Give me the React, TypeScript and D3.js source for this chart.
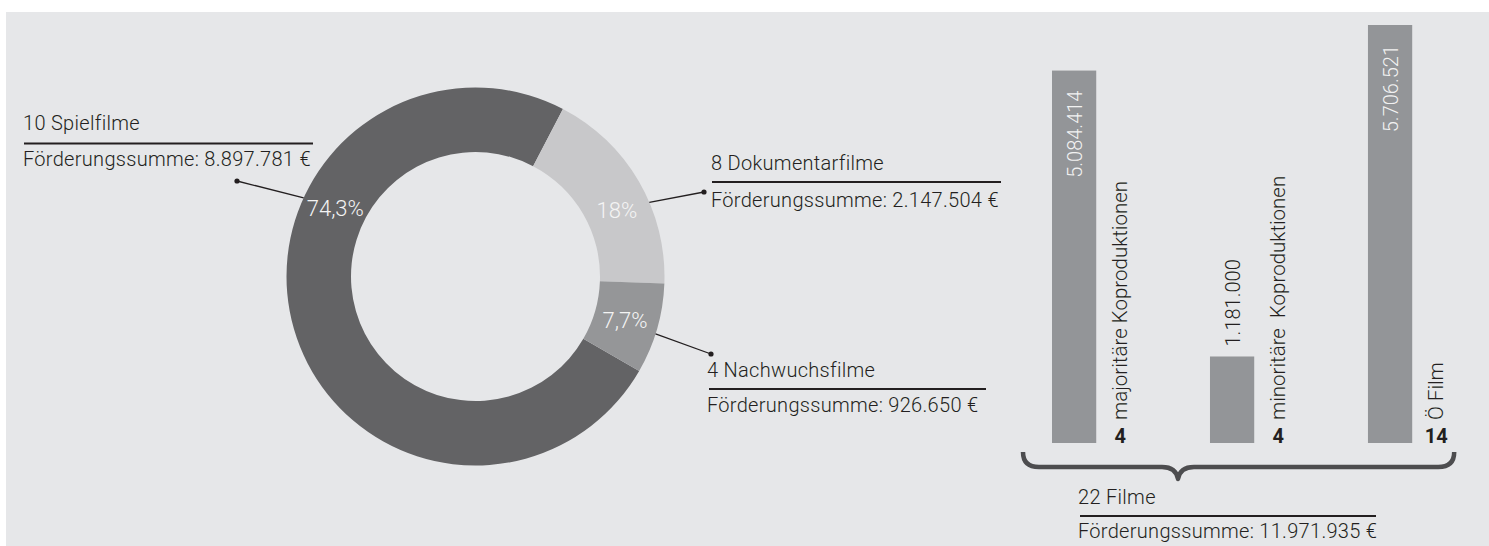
import React from 'react';
import * as d3 from 'd3';

// ---------- data ----------
const donutCategories = ['10 Spielfilme', '8 Dokumentarfilme', '4 Nachwuchsfilme'];
const donutSums = [8897781, 2147504, 926650];
const donutPercentLabels = ['74,3%', '18%', '7,7%'];
const donutSumLabels = [
  'Förderungssumme: 8.897.781 €',
  'Förderungssumme: 2.147.504 €',
  'Förderungssumme: 926.650 €',
];

const barCategories = ['majoritäre Koproduktionen', 'minoritäre  Koproduktionen', 'Ö Film'];
const barValues = [5084414, 1181000, 5706521];
const barValueLabels = ['5.084.414', '1.181.000', '5.706.521'];
const barCounts = ['4', '4', '14'];
const totalLabel = '22 Filme';
const totalSumLabel = 'Förderungssumme: 11.971.935 €';

// ---------- layout / style ----------
const W = 1489;
const H = 546;
const BG = '#e6e7e9';
const INK = '#231f20';
const SLICE_COLORS = ['#636365', '#c8c8ca', '#959698'];
const BAR_COLOR = '#939598';
const FONT = "Roboto, 'Liberation Sans', Arial, sans-serif";
const LABEL_SIZE = 20;

const CX = 475.5;
const CY = 276.5;
const R_OUT = 189;
const R_IN = 124.5;
const START_DEG = 120;
const PCT_ANGLES = [296, 65, 106.5];
const LEADER_ANGLES = [294.6, 66.9, 107.7];

// label blocks: text x, title baseline, underline y, underline x1, x2, sum baseline, dot
const LABEL_BLOCKS = [
  { x: 23, ty: 130, ly: 143.5, lx1: 24, lx2: 313, sy: 166, dot: [237, 181] },
  { x: 711, ty: 170, ly: 182, lx1: 712, lx2: 1001, sy: 207, dot: [704, 192] },
  { x: 707, ty: 377, ly: 389, lx1: 709, lx2: 986, sy: 412, dot: [711, 354] },
];
const TOTAL_BLOCK = { x: 1078, ty: 504, ly: 516, lx1: 1080, lx2: 1376, sy: 538 };

const rad = (d: number) => (d * Math.PI) / 180;
const polar = (r: number, deg: number): [number, number] => [
  CX + r * Math.sin(rad(deg)),
  CY - r * Math.cos(rad(deg)),
];

export default function App() {
  const pie = d3
    .pie<number>()
    .sort(null)
    .value((d) => d)
    .startAngle(rad(START_DEG))
    .endAngle(rad(START_DEG + 360));
  const arcs = pie(donutSums);
  const arcGen = d3.arc<d3.PieArcDatum<number>>().innerRadius(R_IN).outerRadius(R_OUT);

  const xBand = d3
    .scaleBand<string>()
    .domain(barCategories)
    .range([1052, 1412.2])
    .paddingInner(0.72)
    .paddingOuter(0);
  const yLin = d3.scaleLinear().domain([0, d3.max(barValues) as number]).range([443, 25]);
  const bw = xBand.bandwidth();

  const braceL = (xBand(barCategories[0]) as number) - 29;
  const braceR = (xBand(barCategories[barCategories.length - 1]) as number) + bw + 42;
  const braceM = 1178;
  const bY = 467;
  const brace = `M${braceL},452 Q${braceL},${bY} ${braceL + 16},${bY} L${braceM - 16},${bY} Q${braceM - 2},${bY} ${braceM},${bY + 12} Q${braceM + 2},${bY} ${braceM + 16},${bY} L${braceR - 16},${bY} Q${braceR},${bY} ${braceR},452`;

  const textStyle = { fontFamily: FONT, fontWeight: 300 as const };

  return (
    <svg
      width={W}
      height={H}
      style={{ position: 'absolute', left: 0, top: 0, background: '#ffffff' }}
    >
      <rect x={6} y={12} width={W - 6} height={H - 12} fill={BG} />

      {/* donut */}
      <g transform={`translate(${CX},${CY})`}>
        {arcs.map((a, i) => (
          <path key={i} d={arcGen(a) as string} fill={SLICE_COLORS[i]} />
        ))}
      </g>

      {/* percent labels */}
      {donutPercentLabels.map((t, i) => {
        const [x, y] = polar(156, PCT_ANGLES[i]);
        return (
          <text
            key={t}
            x={x}
            y={y + 7.5}
            textAnchor="middle"
            fontSize={22}
            fill="#f4f4f4"
            style={textStyle}
          >
            {t}
          </text>
        );
      })}

      {/* leader lines and label blocks */}
      {LABEL_BLOCKS.map((b, i) => {
        const [lx, ly] = polar(R_OUT, LEADER_ANGLES[i]);
        return (
          <g key={i}>
            <line x1={lx} y1={ly} x2={b.dot[0]} y2={b.dot[1]} stroke={INK} strokeWidth={1.3} />
            <circle cx={b.dot[0]} cy={b.dot[1]} r={2.6} fill={INK} />
            <text x={b.x} y={b.ty} fontSize={LABEL_SIZE} fill={INK} style={textStyle} letterSpacing={0.3}>
              {donutCategories[i]}
            </text>
            <line x1={b.lx1} x2={b.lx2} y1={b.ly} y2={b.ly} stroke={INK} strokeWidth={2} />
            <text x={b.x} y={b.sy} fontSize={LABEL_SIZE} fill={INK} style={textStyle} letterSpacing={0.3}>
              {donutSumLabels[i]}
            </text>
          </g>
        );
      })}

      {/* bars */}
      {barValues.map((v, i) => {
        const x = xBand(barCategories[i]) as number;
        const top = yLin(v);
        const inside = yLin(0) - top > 120;
        const cx = x + bw / 2;
        const labX = x + bw + 31;
        return (
          <g key={i}>
            <rect x={x} y={top} width={bw} height={yLin(0) - top} fill={BAR_COLOR} />
            {inside ? (
              <text
                transform={`translate(${cx + 7.5},${top + 20}) rotate(-90)`}
                textAnchor="end"
                fontSize={20}
                fill="#f2f2f2"
                style={textStyle}
              >
                {barValueLabels[i]}
              </text>
            ) : (
              <text
                transform={`translate(${cx + 7.5},${top - 10}) rotate(-90)`}
                textAnchor="start"
                fontSize={20}
                fill={INK}
                style={textStyle}
              >
                {barValueLabels[i]}
              </text>
            )}
            <text
              transform={`translate(${labX},420) rotate(-90)`}
              textAnchor="start"
              fontSize={20.5}
              fill={INK}
              style={{ ...textStyle, whiteSpace: 'pre' }}
            >
              {barCategories[i]}
            </text>
            <text
              x={labX - 7}
              y={443}
              textAnchor="middle"
              fontSize={20}
              fontWeight={700}
              fill={INK}
              style={{ fontFamily: FONT }}
            >
              {barCounts[i]}
            </text>
          </g>
        );
      })}

      {/* brace */}
      <path d={brace} fill="none" stroke="#4d4d4f" strokeWidth={4.5} strokeLinejoin="round" />

      {/* total block */}
      <text x={TOTAL_BLOCK.x} y={TOTAL_BLOCK.ty} fontSize={LABEL_SIZE} fill={INK} style={textStyle} letterSpacing={0.3}>
        {totalLabel}
      </text>
      <line
        x1={TOTAL_BLOCK.lx1}
        x2={TOTAL_BLOCK.lx2}
        y1={TOTAL_BLOCK.ly}
        y2={TOTAL_BLOCK.ly}
        stroke={INK}
        strokeWidth={2}
      />
      <text x={TOTAL_BLOCK.x} y={TOTAL_BLOCK.sy} fontSize={LABEL_SIZE} fill={INK} style={textStyle} letterSpacing={0.3}>
        {totalSumLabel}
      </text>
    </svg>
  );
}
